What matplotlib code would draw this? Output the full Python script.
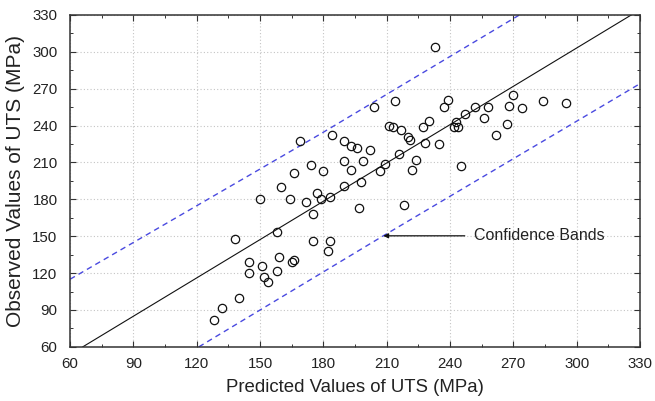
import matplotlib
matplotlib.use("Agg")
import matplotlib.pyplot as plt
from matplotlib.ticker import MultipleLocator

plt.rcParams["font.family"] = ["Liberation Sans", "DejaVu Sans"]

# predicted vs observed UTS (MPa)
predicted = [128, 132, 140, 138, 145, 145, 151, 152, 154, 158, 159, 165, 166, 158,
             150, 160, 164, 172, 177, 179, 183, 175, 175, 183, 182, 190, 197, 169,
             184, 190, 193, 196, 174, 166, 180, 190, 193, 199, 202, 198, 207, 209,
             216, 218, 222, 224, 228, 235, 245, 211, 213, 217, 220, 221, 227, 230,
             242, 244, 243, 233, 204, 214, 237, 239, 252, 258, 268, 270, 274, 284,
             295, 247, 256, 267, 262]
observed = [82, 92, 100, 148, 129, 120, 126, 117, 113, 122, 133, 129, 131, 153,
            180, 190, 180, 178, 185, 180, 182, 168, 146, 146, 138, 191, 173, 227,
            232, 227, 223, 222, 208, 201, 203, 211, 204, 211, 220, 194, 203, 209,
            217, 175, 204, 212, 226, 225, 207, 240, 239, 236, 231, 228, 239, 244,
            239, 239, 243, 304, 255, 260, 255, 261, 255, 255, 256, 265, 254, 260,
            258, 249, 246, 241, 232]

# fitted line and confidence bands (end points)
fit_x = [66, 326]
fit_y = [60, 330]
upper_x = [60, 178, 273]
upper_y = [115, 232.5, 330]
lower_x = [121, 208.4, 330]
lower_y = [60, 150.3, 274]

fig = plt.figure(figsize=(6.55, 4.01), dpi=100)
ax = fig.add_axes([0.107, 0.135, 0.870, 0.828])

ax.grid(True, which="major", linestyle=(0, (1, 2)), color="#c4c4c4", linewidth=0.8)
ax.set_axisbelow(True)

ax.plot(fit_x, fit_y, color="#111111", linewidth=0.8)
ax.plot(upper_x, upper_y, color="#4a4ae0", linestyle=(0, (4, 3)), linewidth=1.0)
ax.plot(lower_x, lower_y, color="#4a4ae0", linestyle=(0, (4, 3)), linewidth=1.0)
ax.plot(predicted, observed, linestyle="none", marker="o", markersize=6,
        markerfacecolor="none", markeredgecolor="#111111", markeredgewidth=0.9)

ax.annotate("", xy=(208.4, 150.3), xytext=(247, 150.3),
            arrowprops=dict(arrowstyle="-|>", color="#111111", lw=0.9,
                            mutation_scale=7, shrinkA=0, shrinkB=0))
ax.text(251.5, 150.3, "Confidence Bands", fontsize=11.5, color="#222222",
        ha="left", va="center")

ax.set_xlim(60, 330)
ax.set_ylim(60, 330)
ax.xaxis.set_major_locator(MultipleLocator(30))
ax.yaxis.set_major_locator(MultipleLocator(30))
ax.xaxis.set_minor_locator(MultipleLocator(15))
ax.yaxis.set_minor_locator(MultipleLocator(15))
ax.tick_params(which="both", direction="in", top=True, right=True,
               colors="#333333", labelcolor="#222222")
ax.tick_params(which="major", length=4, width=0.8, labelsize=10.8)
ax.tick_params(axis="x", which="major", pad=7)
ax.tick_params(axis="y", which="major", pad=9)
ax.tick_params(which="minor", length=2.5, width=0.7)
for s in ax.spines.values():
    s.set_linewidth(1.1)
    s.set_color("#333333")

ax.set_xlabel("Predicted Values of UTS (MPa)", fontsize=13.4, color="#222222",
              labelpad=6)
ax.set_ylabel("Observed Values of UTS (MPa)", fontsize=15, color="#222222",
              labelpad=5)

fig.savefig("out.png", dpi=100)
